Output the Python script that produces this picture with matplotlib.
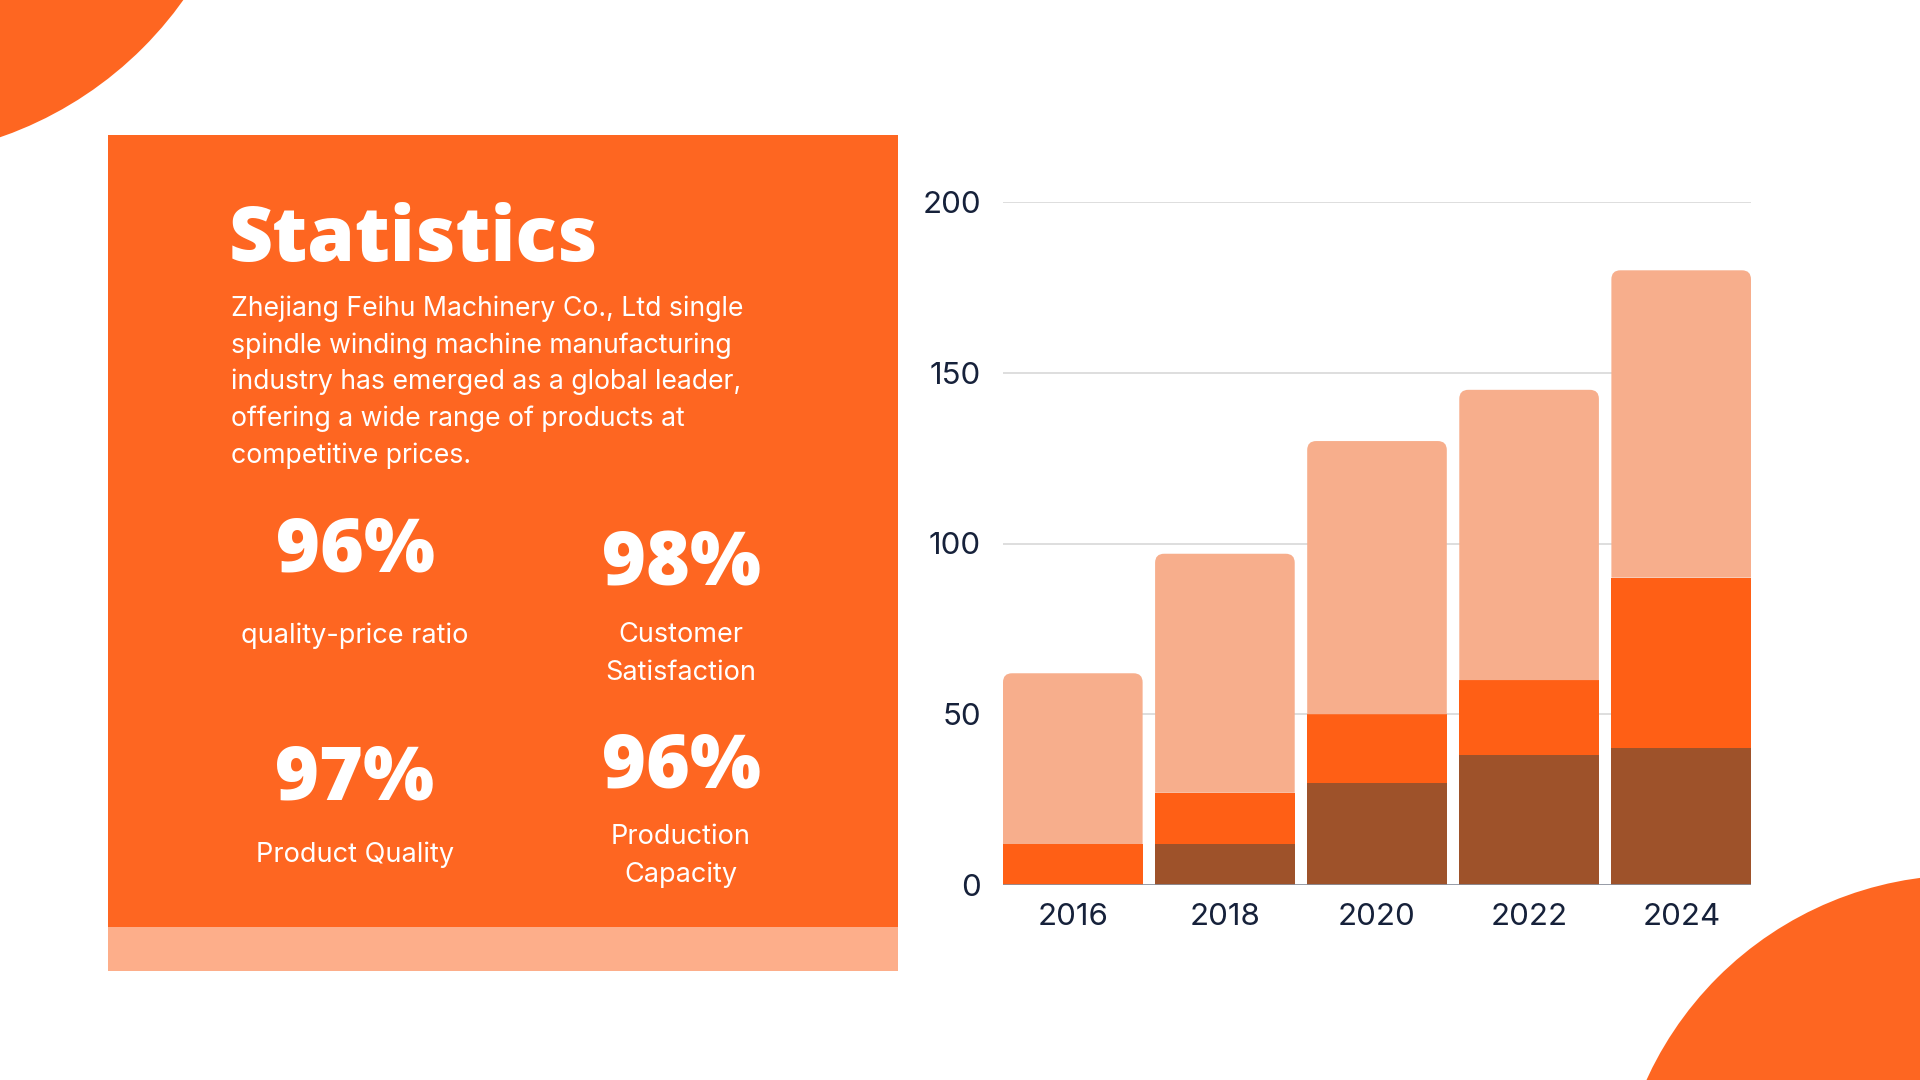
import matplotlib.pyplot as plt
from matplotlib.patches import Rectangle, Circle, PathPatch
from matplotlib.path import Path
import numpy as np

# chart data
years = ["2016", "2018", "2020", "2022", "2024"]
base = [0, 12, 30, 38, 40]
middle = [12, 15, 20, 22, 50]
top = [50, 70, 80, 85, 90]
yticks = [0, 50, 100, 150, 200]

# left panel text
title = "Statistics"
body_lines = [
    "Zhejiang Feihu Machinery Co., Ltd single",
    "spindle winding machine manufacturing",
    "industry has emerged as a global leader,",
    "offering a wide range of products at",
    "competitive prices.",
]
stat_values = ["96%", "98%", "97%", "96%"]
stat_labels = ["quality-price ratio", "Customer\nSatisfaction",
               "Product Quality", "Production\nCapacity"]

ORANGE = "#FE6621"
BAND = "#FDAE8A"
C_TOP = "#F7AE8C"
C_MID = "#FF5F15"
C_BASE = "#9E522A"
NAVY = "#16213A"

fig = plt.figure(figsize=(19.2, 10.8), dpi=100)
fig.patch.set_facecolor("white")

# background layer in pixel coords
bg = fig.add_axes([0, 0, 1, 1])
bg.set_xlim(0, 1920)
bg.set_ylim(1080, 0)
bg.axis("off")

bg.add_patch(Circle((-123, -218), 376, color=ORANGE, lw=0))
bg.add_patch(Circle((1965, 1225), 350, color=ORANGE, lw=0))
bg.add_patch(Rectangle((108, 135), 790, 792, color=ORANGE, lw=0))
bg.add_patch(Rectangle((108, 927), 790, 44, color=BAND, lw=0))

bg.text(229, 261, title, color="white", fontsize=55, fontweight="heavy",
        family="Open Sans", va="baseline", ha="left")

for i, line in enumerate(body_lines):
    bg.text(231, 308.5 + i * 36.8, line, color="white", fontsize=19.2,
            family="Inter", va="center", ha="left")

stat_pos = [(355, 552), (681, 566), (355, 780), (681, 768)]
label_pos = [(355, 636), (681, 654), (355, 855), (681, 856)]
for (x, y), v in zip(stat_pos, stat_values):
    bg.text(x, y, v, color="white", fontsize=54, fontweight="heavy",
            family="Open Sans", ha="center", va="center")
for (x, y), lab in zip(label_pos, stat_labels):
    bg.text(x, y, lab, color="white", fontsize=19.5, family="Inter",
            ha="center", va="center", linespacing=1.55)

# chart
ax = fig.add_axes([1003 / 1920, 195 / 1080, 748 / 1920, 683 / 1080])
ax.set_facecolor("none")
x = np.arange(len(years))
w = 0.918
b2 = np.array(base) + np.array(middle)
ax.bar(x, base, width=w, color=C_BASE, zorder=2)
ax.bar(x, middle, width=w, bottom=base, color=C_MID, zorder=2)
tops = ax.bar(x, top, width=w, bottom=b2, color=C_TOP, zorder=2)

# rounded top corners only: replace each top rectangle with a path
px_x = 748 / (len(years) - 1 + w)
px_y = 683 / 200
rx = 9 / px_x
ry = 9 / px_y
for bar in tops:
    x0, y0 = bar.get_x(), bar.get_y()
    x1, y1 = x0 + bar.get_width(), y0 + bar.get_height()
    verts = [(x0, y0), (x1, y0), (x1, y1 - ry), (x1, y1), (x1 - rx, y1),
             (x0 + rx, y1), (x0, y1), (x0, y1 - ry), (x0, y0)]
    codes = [Path.MOVETO, Path.LINETO, Path.LINETO, Path.CURVE3, Path.CURVE3,
             Path.LINETO, Path.CURVE3, Path.CURVE3, Path.CLOSEPOLY]
    bar.set_visible(False)
    ax.add_patch(PathPatch(Path(verts, codes), facecolor=C_TOP, lw=0, zorder=2))

ax.set_xlim(-w / 2, len(years) - 1 + w / 2)
ax.set_ylim(0, 200)
ax.set_yticks(yticks)
ax.set_xticks(x)
ax.set_xticklabels(years)
ax.grid(axis="y", color="#D4D4D4", lw=1.1, zorder=0)
ax.axhline(0, color="#8A919E", lw=1.2, zorder=3)
for s in ax.spines.values():
    s.set_visible(False)
ax.tick_params(length=0, labelsize=22.5, labelcolor=NAVY)
ax.tick_params(axis="y", pad=16)
ax.tick_params(axis="x", pad=13)
for t in ax.get_xticklabels() + ax.get_yticklabels():
    t.set_family("Inter")

fig.savefig("out.png", dpi=100)
